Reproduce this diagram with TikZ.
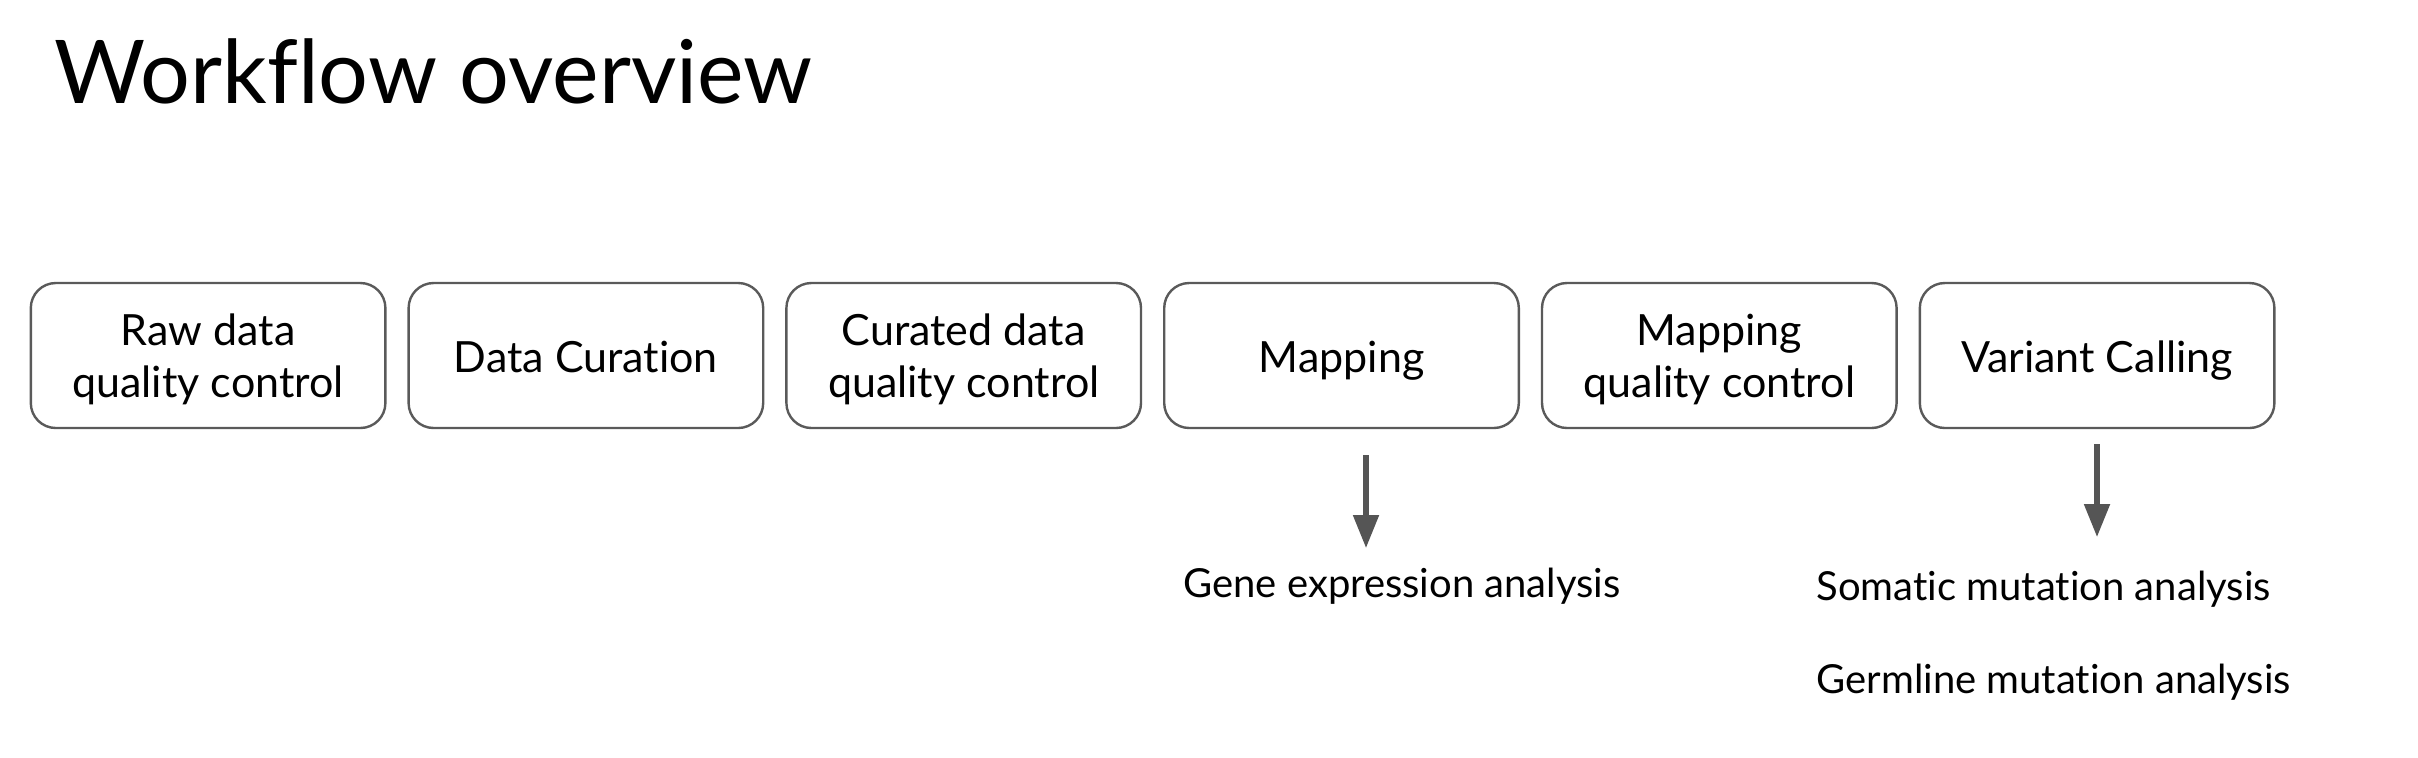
\documentclass[tikz,border=0pt]{standalone}
\usepackage{fontspec}
\setmainfont[Ligatures=NoCommon]{Lato}
\usetikzlibrary{arrows.meta}
\definecolor{boxgray}{HTML}{5A5A5A}
\definecolor{arrgray}{HTML}{555555}
\newcommand\twolines[2]{\rule{0pt}{20.5pt}#1\\#2\rule[-5pt]{0pt}{0pt}}
\begin{document}
\begin{tikzpicture}[x=0.5pt,y=-0.5pt,
  stepbox/.style={draw=boxgray, line width=1.2pt, rounded corners=12.5pt,
    minimum width=177.3pt, minimum height=72.5pt, inner sep=0pt, align=center,
    font=\fontsize{21.5}{26}\selectfont},
  oneline/.style={text height=17pt, text depth=0pt},
  lbl/.style={anchor=base west, inner sep=0pt, font=\fontsize{20}{24}\selectfont},
  arr/.style={draw=arrgray, line width=2.6pt, -{Triangle[length=16.5pt,width=12.5pt]}}]
\useasboundingbox (0,0) rectangle (2418,757);
\node[anchor=base west, inner sep=0pt, font=\fontsize{44}{54}\selectfont] (title) at (54,103) {Workflow overview};
\node[stepbox] (raw) at (208.1,355.5) {\twolines{Raw data}{quality control}};
\node[stepbox,oneline] (cur) at (585.9,355.5) {Data Curation};
\node[stepbox] (cqc) at (963.7,355.5) {\twolines{Curated data}{quality control}};
\node[stepbox,oneline] (map) at (1341.5,355.5) {Mapping};
\node[stepbox] (mqc) at (1719.3,355.5) {\twolines{Mapping}{quality control}};
\node[stepbox,oneline] (var) at (2097.1,355.5) {Variant Calling};
\node[lbl] (gene) at (1183,597) {Gene expression analysis};
\node[lbl] (som) at (1816,600) {Somatic mutation analysis};
\node[lbl] (germ) at (1816,693) {Germline mutation analysis};
\coordinate (a1s) at (1366,455);
\coordinate (a1e) at (1366,548);
\coordinate (a2s) at (2097,444);
\coordinate (a2e) at (2097,537);
\draw[arr] (a1s) -- (a1e);
\draw[arr] (a2s) -- (a2e);
\end{tikzpicture}
\end{document}
